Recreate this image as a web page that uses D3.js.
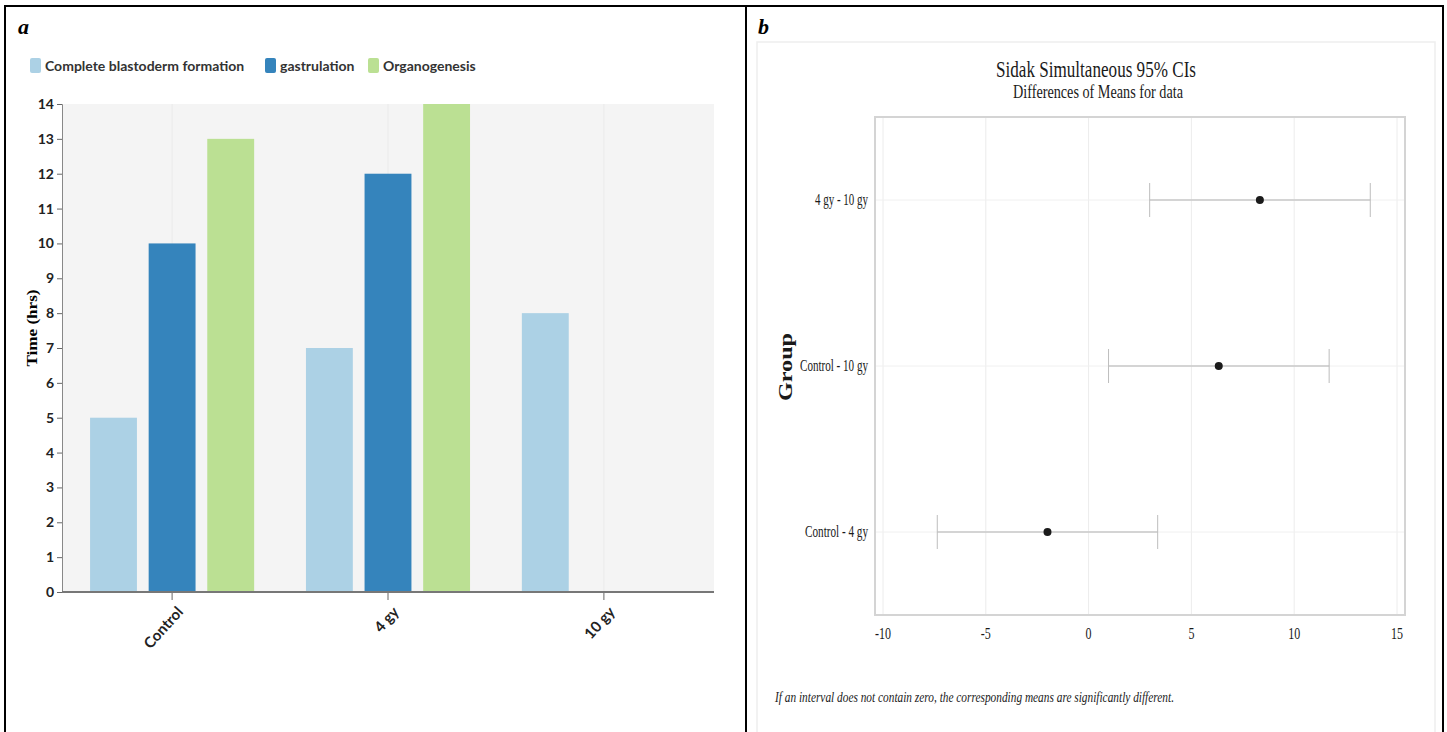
<!DOCTYPE html>
<html>
<head>
<meta charset="utf-8">
<script src="https://cdn.jsdelivr.net/npm/d3@7"></script>
<style>
  html, body { margin: 0; padding: 0; background: #fff; }
  svg { display: block; }
  .bar-axis text { font-family: Lato, "Open Sans", sans-serif; font-weight: 700; font-size: 14px; fill: #222; }
  .serif { font-family: "Liberation Serif", "Times New Roman", serif; }
</style>
</head>
<body>
<div id="chart"></div>
<script>
// ---- panel a data ----
var groups = ['Control', '4 gy', '10 gy'];
var stages = ['Complete blastoderm formation', 'gastrulation', 'Organogenesis'];
var blastoderm = [5, 7, 8];
var gastrulation = [10, 12, 0];
var organogenesis = [13, 14, 0];
var yTicksA = d3.range(0, 15);

// ---- panel b data ----
var comparisons = ['4 gy - 10 gy', 'Control - 10 gy', 'Control - 4 gy'];
var meanDiff = [8.33, 6.33, -2.0];
var lowerCI = [2.97, 0.97, -7.36];
var upperCI = [13.7, 11.7, 3.36];
var xTicksB = [-10, -5, 0, 5, 10, 15];

var W = 1447, H = 732;
var colors = ['#acd1e5', '#3584bc', '#bbe093'];

var svg = d3.select('#chart').append('svg')
    .attr('width', W)
    .attr('height', H);

// table frame
svg.append('rect')
    .attr('x', 5).attr('y', 6)
    .attr('width', 1438).attr('height', 740)
    .attr('fill', 'none').attr('stroke', '#000').attr('stroke-width', 2);
svg.append('line')
    .attr('x1', 746).attr('x2', 746).attr('y1', 6).attr('y2', H)
    .attr('stroke', '#000').attr('stroke-width', 2);

// panel letters
svg.append('text').attr('class', 'serif')
    .attr('x', 18).attr('y', 34)
    .style('font-size', '22px').style('font-weight', 700).style('font-style', 'italic')
    .text('a');
svg.append('text').attr('class', 'serif')
    .attr('x', 758).attr('y', 34)
    .style('font-size', '22px').style('font-weight', 700).style('font-style', 'italic')
    .text('b');

// ================= panel a: grouped bars =================
var plotA = { left: 62, right: 714, top: 104, bottom: 592 };
var series = [blastoderm, gastrulation, organogenesis];

var x0 = d3.scaleBand().domain(groups)
    .range([plotA.left, plotA.right])
    .paddingInner(0.24).paddingOuter(0.13);
var x1 = d3.scaleBand().domain(stages)
    .range([0, x0.bandwidth()])
    .paddingInner(0.2);
var yA = d3.scaleLinear().domain([0, 14]).range([plotA.bottom, plotA.top]);
var color = d3.scaleOrdinal().domain(stages).range(colors);

var gA = svg.append('g');

gA.append('rect')
    .attr('x', plotA.left).attr('y', plotA.top)
    .attr('width', plotA.right - plotA.left)
    .attr('height', plotA.bottom - plotA.top)
    .attr('fill', '#f4f4f4');

// faint vertical grid at group centres
gA.selectAll('.vgrid')
    .data(groups)
    .enter().append('line')
    .attr('x1', d => x0(d) + x0.bandwidth() / 2)
    .attr('x2', d => x0(d) + x0.bandwidth() / 2)
    .attr('y1', plotA.top).attr('y2', plotA.bottom)
    .attr('stroke', '#eaeaea');

// bars
var rows = groups.map((g, i) => ({ group: g, values: stages.map((s, j) => ({ stage: s, value: series[j][i] })) }));
gA.selectAll('.grp')
    .data(rows)
    .enter().append('g')
    .attr('transform', d => `translate(${x0(d.group)},0)`)
    .selectAll('rect')
    .data(d => d.values.filter(v => v.value > 0))
    .enter().append('rect')
    .attr('x', d => x1(d.stage))
    .attr('width', x1.bandwidth())
    .attr('y', d => yA(d.value))
    .attr('height', d => yA(0) - yA(d.value))
    .attr('fill', d => color(d.stage));

// y axis
var yAxis = gA.append('g')
    .attr('class', 'bar-axis')
    .attr('transform', `translate(${plotA.left},0)`)
    .call(d3.axisLeft(yA).tickValues(yTicksA).tickSize(5).tickPadding(3).tickFormat(d3.format('d')));
yAxis.select('.domain').attr('stroke', '#888');
yAxis.selectAll('.tick line').attr('stroke', '#666');

// x axis
svg.append('line')
    .attr('x1', plotA.left).attr('x2', plotA.right)
    .attr('y1', plotA.bottom).attr('y2', plotA.bottom)
    .attr('stroke', '#777').attr('stroke-width', 2);
var xAxis = gA.append('g')
    .attr('class', 'bar-axis')
    .attr('transform', `translate(0,${plotA.bottom})`)
    .call(d3.axisBottom(x0).tickSize(8).tickSizeOuter(0));
xAxis.select('.domain').remove();
xAxis.selectAll('.tick line').attr('stroke', '#666');
xAxis.selectAll('.tick text')
    .style('font-size', '15px')
    .attr('text-anchor', 'end')
    .attr('dy', '0.35em')
    .attr('transform', 'translate(8,17) rotate(-48)')
    .attr('y', 0).attr('x', 0);

// y title
svg.append('text').attr('class', 'serif')
    .attr('transform', 'translate(37,328) rotate(-90)')
    .attr('text-anchor', 'middle')
    .style('font-size', '14px').style('font-weight', 700)
    .attr('textLength', 77).attr('lengthAdjust', 'spacingAndGlyphs')
    .text('Time (hrs)');

// legend
var legendX = [30, 265, 368];
var legend = svg.append('g');
stages.forEach((s, i) => {
    legend.append('rect')
        .attr('x', legendX[i]).attr('y', 58)
        .attr('width', 11).attr('height', 15).attr('rx', 2)
        .attr('fill', color(s));
    legend.append('text')
        .attr('x', legendX[i] + 15).attr('y', 71)
        .style('font-family', 'Lato, sans-serif').style('font-weight', 700)
        .style('font-size', '14px').style('fill', '#333')
        .text(s);
});

// ================= panel b: Sidak CIs =================
var gB = svg.append('g');
gB.append('rect')
    .attr('x', 757).attr('y', 42)
    .attr('width', 678).attr('height', 720)
    .attr('fill', '#fff').attr('stroke', '#eeeeee').attr('stroke-width', 1.5);

var box = { left: 875, right: 1405, top: 117, bottom: 615 };
var xB = d3.scaleLinear().domain([-10, 15]).range([883, 1397]);
var yB = d3.scalePoint().domain(comparisons).range([box.top, box.bottom]).padding(0.5);

gB.append('text').attr('class', 'serif')
    .attr('x', 1096).attr('y', 77).attr('text-anchor', 'middle')
    .style('font-size', '23px').style('fill', '#1a1a1a')
    .attr('textLength', 200).attr('lengthAdjust', 'spacingAndGlyphs')
    .text('Sidak Simultaneous 95% CIs');
gB.append('text').attr('class', 'serif')
    .attr('x', 1098).attr('y', 98).attr('text-anchor', 'middle')
    .style('font-size', '18px').style('fill', '#1a1a1a')
    .attr('textLength', 170).attr('lengthAdjust', 'spacingAndGlyphs')
    .text('Differences of Means for data');

// grid
gB.selectAll('.vg').data(xTicksB).enter().append('line')
    .attr('x1', d => xB(d)).attr('x2', d => xB(d))
    .attr('y1', box.top).attr('y2', box.bottom)
    .attr('stroke', '#ececec');
gB.selectAll('.hg').data(comparisons).enter().append('line')
    .attr('x1', box.left).attr('x2', box.right)
    .attr('y1', d => yB(d)).attr('y2', d => yB(d))
    .attr('stroke', '#f0f0f0');

gB.append('rect')
    .attr('x', box.left).attr('y', box.top)
    .attr('width', box.right - box.left).attr('height', box.bottom - box.top)
    .attr('fill', 'none').attr('stroke', '#d4d4d4').attr('stroke-width', 2);

// intervals
var ci = comparisons.map((c, i) => ({ name: c, mean: meanDiff[i], lo: lowerCI[i], hi: upperCI[i] }));
var rowsB = gB.selectAll('.ci').data(ci).enter().append('g');
rowsB.append('line')
    .attr('x1', d => xB(d.lo)).attr('x2', d => xB(d.hi))
    .attr('y1', d => yB(d.name)).attr('y2', d => yB(d.name))
    .attr('stroke', '#c8c8c8').attr('stroke-width', 1.5);
rowsB.selectAll('.cap').data(d => [d.lo, d.hi].map(v => ({ v: v, name: d.name }))).enter().append('line')
    .attr('x1', d => xB(d.v)).attr('x2', d => xB(d.v))
    .attr('y1', d => yB(d.name) - 17).attr('y2', d => yB(d.name) + 17)
    .attr('stroke', '#bdbdbd');
rowsB.append('circle')
    .attr('cx', d => xB(d.mean)).attr('cy', d => yB(d.name))
    .attr('r', 4).attr('fill', '#1b1b1b');

// axes labels
var rowLabelW = { '4 gy - 10 gy': 53, 'Control - 10 gy': 68, 'Control - 4 gy': 63 };
gB.selectAll('.rl').data(comparisons).enter().append('text').attr('class', 'serif')
    .attr('x', 868).attr('y', d => yB(d) + 5).attr('text-anchor', 'end')
    .style('font-size', '16px').style('fill', '#1a1a1a')
    .attr('textLength', d => rowLabelW[d]).attr('lengthAdjust', 'spacingAndGlyphs')
    .text(d => d);
gB.selectAll('.xl').data(xTicksB).enter().append('text').attr('class', 'serif')
    .attr('x', d => xB(d)).attr('y', 639).attr('text-anchor', 'middle')
    .style('font-size', '16px').style('fill', '#1a1a1a')
    .attr('transform', d => `translate(${xB(d)},0) scale(0.75,1) translate(${-xB(d)},0)`)
    .text(d => d);

gB.append('text').attr('class', 'serif')
    .attr('transform', 'translate(792,367) rotate(-90)').attr('text-anchor', 'middle')
    .style('font-size', '18px').style('font-weight', 700).style('fill', '#1a1a1a')
    .attr('textLength', 68).attr('lengthAdjust', 'spacingAndGlyphs')
    .text('Group');

gB.append('text').attr('class', 'serif')
    .attr('x', 775).attr('y', 702)
    .style('font-size', '14px').style('font-style', 'italic').style('fill', '#1a1a1a')
    .attr('textLength', 399).attr('lengthAdjust', 'spacingAndGlyphs')
    .text('If an interval does not contain zero, the corresponding means are significantly different.');
</script>
</body>
</html>
